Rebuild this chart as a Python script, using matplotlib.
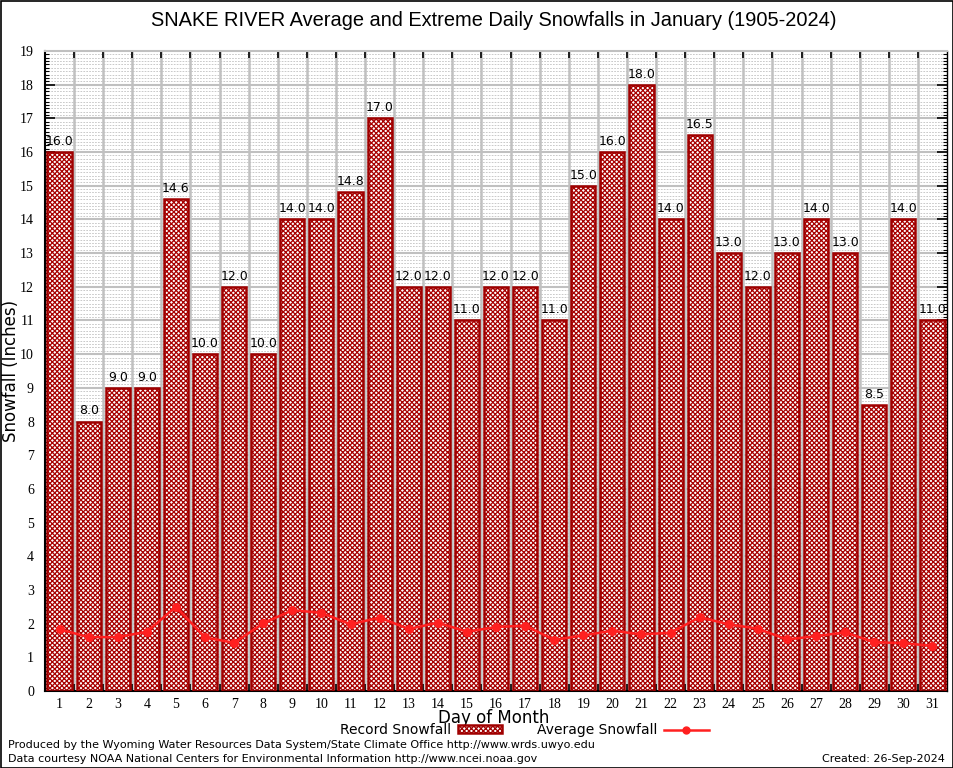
import matplotlib
matplotlib.use("Agg")
import matplotlib.pyplot as plt
from matplotlib.patches import Rectangle
from matplotlib.lines import Line2D
import numpy as np

# 数据
days = list(range(1, 32))
record_snow = [16.0, 8.0, 9.0, 9.0, 14.6, 10.0, 12.0, 10.0, 14.0, 14.0,
               14.8, 17.0, 12.0, 12.0, 11.0, 12.0, 12.0, 11.0, 15.0, 16.0,
               18.0, 14.0, 16.5, 13.0, 12.0, 13.0, 14.0, 13.0, 8.5, 14.0, 11.0]
avg_snow = [1.83, 1.60, 1.60, 1.76, 2.50, 1.59, 1.43, 2.01, 2.40, 2.32,
            1.98, 2.18, 1.84, 2.03, 1.76, 1.90, 1.94, 1.52, 1.65, 1.79,
            1.68, 1.73, 2.19, 1.98, 1.85, 1.53, 1.63, 1.74, 1.45, 1.42, 1.34]

title = "SNAKE RIVER Average and Extreme Daily Snowfalls in January (1905-2024)"
bar_red = "#a00000"
hatch_red = "#a80000"
line_red = "#ff2020"
grid_grey = "#c0c0c0"

plt.rcParams["hatch.linewidth"] = 0.9

W, H = 954, 768
fig = plt.figure(figsize=(W / 100, H / 100), dpi=100)
ax = fig.add_axes([45 / W, 1 - 691 / H, (947 - 45) / W, (691 - 51) / H])

# 外框
fig.patches.append(Rectangle((0.5 / W, 0.5 / H), 1 - 1.5 / W, 1 - 1.5 / H, transform=fig.transFigure,
                             fill=False, edgecolor="black", linewidth=1.2))

# 网格
for y in np.arange(0.1, 19, 0.1):
    if abs(y - round(y)) > 1e-6:
        ax.axhline(y, color=grid_grey, linewidth=0.6, linestyle=(0, (2, 1.5)), zorder=0)
for y in range(1, 19):
    ax.axhline(y, color=grid_grey, linewidth=1.5, zorder=0.5)
for x in np.arange(1.5, 31, 1.0):
    ax.axvline(x, color=grid_grey, linewidth=1.8, zorder=0.5)

# 柱子
ax.bar(days, record_snow, width=0.83, color="white", hatch="xxxxxxx", edgecolor=hatch_red,
       linewidth=0, zorder=2)
ax.bar(days, record_snow, width=0.83, fill=False, edgecolor=bar_red, linewidth=1.8, zorder=3)
for d, v in zip(days, record_snow):
    ax.text(d, v + 0.12, f"{v:.1f}", ha="center", va="bottom", fontsize=9,
            family="DejaVu Sans", zorder=5)

# 平均值
ax.plot(days, avg_snow, color=line_red, linewidth=1.8, marker="o", markersize=5.5, zorder=4)

ax.set_xlim(0.5, 31.5)
ax.set_ylim(0, 19)

ax.set_xticks(np.arange(1.5, 31, 1.0))
ax.set_xticklabels([])
ax.set_xticks(days, minor=True)
ax.set_xticklabels([str(d) for d in days], minor=True, family="Liberation Serif", fontsize=10)
ax.tick_params(axis="x", which="major", direction="in", length=5, width=1.2, top=True, bottom=True)
ax.tick_params(axis="x", which="minor", length=0, pad=5)

ax.set_yticks(range(0, 20))
ax.set_yticklabels([str(i) for i in range(0, 20)], family="Liberation Serif", fontsize=10)
ax.set_yticks(np.arange(0, 19.01, 0.1), minor=True)
ax.tick_params(axis="y", which="major", direction="in", length=7, width=1.2, left=True, right=True, pad=8)
ax.tick_params(axis="y", which="minor", direction="in", length=3, width=0.8, left=True, right=True)

ax.spines["left"].set_linewidth(1.5)
ax.spines["bottom"].set_linewidth(1.5)
ax.spines["top"].set_color(grid_grey)
ax.spines["top"].set_linewidth(1.5)
ax.spines["right"].set_linestyle((0, (1, 1)))
ax.spines["right"].set_linewidth(1.0)

fig.text(494 / W, 1 - 20 / H, title, ha="center", va="center", fontsize=14.4, family="Liberation Sans")
fig.text(11 / W, 1 - 371 / H, "Snowfall (Inches)", rotation=90, ha="center", va="center",
         fontsize=12, family="DejaVu Sans")
fig.text(494 / W, 1 - 718 / H, "Day of Month", ha="center", va="center", fontsize=12,
         family="DejaVu Sans")

# 图例
handles = [Rectangle((0, 0), 1, 1, facecolor="white", hatch="xxxxxxx", edgecolor=bar_red, linewidth=1.8),
           Line2D([], [], color=line_red, linewidth=1.8, marker="o", markersize=5)]
fig.legend(handles, ["Record Snowfall", "Average Snowfall"], loc="center", ncol=2,
           bbox_to_anchor=(524 / W, 1 - 730 / H), frameon=False, markerfirst=False,
           prop={"family": "DejaVu Sans", "size": 10}, handlelength=3.2, handleheight=0.45,
           columnspacing=2.5, handletextpad=0.5)

fig.text(8 / W, 1 - 745 / H,
         "Produced by the Wyoming Water Resources Data System/State Climate Office http://www.wrds.uwyo.edu",
         ha="left", va="center", fontsize=8, family="DejaVu Sans")
fig.text(8 / W, 1 - 759 / H,
         "Data courtesy NOAA National Centers for Environmental Information http://www.ncei.noaa.gov",
         ha="left", va="center", fontsize=8, family="DejaVu Sans")
fig.text(945 / W, 1 - 759 / H, "Created: 26-Sep-2024", ha="right", va="center", fontsize=8,
         family="DejaVu Sans")

fig.savefig("out.png", dpi=100)
